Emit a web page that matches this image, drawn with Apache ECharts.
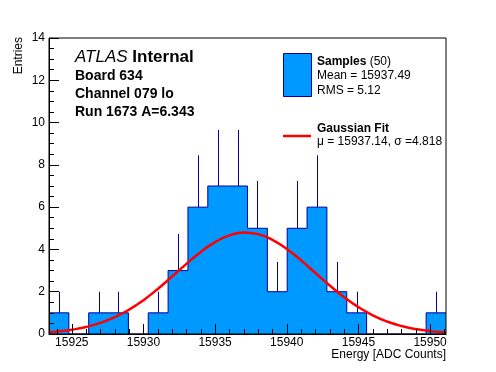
<!DOCTYPE html>
<html>
<head>
<meta charset="utf-8">
<script src="https://cdn.jsdelivr.net/npm/echarts@6/dist/echarts.min.js"></script>
<style>html,body{margin:0;padding:0;background:#fff;}#c{width:496px;height:372px;}</style>
</head>
<body>
<div id="c"></div>
<script>
// ---- data ----
const XMIN = 15923.41;
const XMAX = 15951.11;
const BIN_WIDTH = 1.385;
const counts = [1, 0, 1, 1, 0, 1, 3, 6, 7, 7, 5, 2, 5, 6, 2, 1, 0, 0, 0, 1];
const errUp  = [1, 0, 1, 1, 0, 1, 1.73, 2.45, 2.65, 2.65, 2.24, 1.41, 2.24, 2.45, 1.41, 1, 0, 0, 0, 1];
const fitX = [15923.41, 15924, 15925, 15926, 15927, 15928, 15929, 15930, 15931, 15932, 15933, 15934, 15935, 15936, 15937,
              15938, 15939, 15940, 15941, 15942, 15943, 15944, 15945, 15946, 15947, 15948, 15949, 15950, 15951, 15951.11];
const fitY = [0.083, 0.117, 0.201, 0.331, 0.524, 0.794, 1.152, 1.601, 2.131, 2.717, 3.318, 3.881, 4.349, 4.667, 4.798,
              4.724, 4.455, 4.025, 3.482, 2.886, 2.291, 1.742, 1.269, 0.885, 0.591, 0.378, 0.232, 0.136, 0.077, 0.072];
const xMajorTicks = [15925, 15930, 15935, 15940, 15945, 15950];
const yMin = 0, yMax = 14, yStep = 2;

// ---- derived structures ----
const stepData = [];
for (let i = 0; i < counts.length; i++) stepData.push([XMIN + i * BIN_WIDTH, counts[i]]);
stepData.push([XMIN + counts.length * BIN_WIDTH, counts[counts.length - 1]]);
const errData = [];
for (let i = 0; i < counts.length; i++) {
  if (counts[i] > 0) errData.push([XMIN + (i + 0.5) * BIN_WIDTH, counts[i], counts[i] + errUp[i]]);
}
const xMinorTicks = [];
for (let v = Math.ceil(XMIN); v <= XMAX; v++) if (xMajorTicks.indexOf(v) < 0) xMinorTicks.push(v);
const fitData = fitX.map((x, i) => [x, fitY[i]]);

const FONT = '"Liberation Sans", Arial, Helvetica, sans-serif';
const FILL = '#0099ff', EDGE = '#000099';

const chart = echarts.init(document.getElementById('c'), null, {renderer: 'canvas'});
chart.setOption({
  animation: false,
  backgroundColor: '#fff',
  textStyle: {fontFamily: FONT},
  grid: {left: 49, right: 50, top: 38, bottom: 38, show: true, borderColor: '#000', borderWidth: 1, backgroundColor: 'transparent', z: 10},
  xAxis: [
    {
      type: 'value', min: XMIN, max: XMAX, position: 'bottom', z: 10,
      axisLine: {show: true, onZero: false, lineStyle: {color: '#000', width: 1}},
      axisTick: {show: true, inside: true, length: 10, customValues: xMajorTicks, lineStyle: {color: '#000', width: 1}},
      axisLabel: {show: true, customValues: xMajorTicks, formatter: v => String(v), color: '#000', fontSize: 12, fontFamily: FONT, margin: 3},
      splitLine: {show: false}
    },
    {
      type: 'value', min: XMIN, max: XMAX, position: 'bottom', z: 10,
      axisLine: {show: false},
      axisTick: {show: true, inside: true, length: 5, customValues: xMinorTicks, lineStyle: {color: '#000', width: 1}},
      axisLabel: {show: false},
      splitLine: {show: false}
    }
  ],
  yAxis: {
    type: 'value', min: yMin, max: yMax, interval: yStep, z: 10,
    axisLine: {show: true, lineStyle: {color: '#000', width: 1}},
    axisTick: {show: true, inside: true, length: 10, lineStyle: {color: '#000', width: 1}},
    minorTick: {show: true, splitNumber: 4, length: 5, lineStyle: {color: '#000', width: 1}},
    axisLabel: {color: '#000', fontSize: 12, fontFamily: FONT, margin: 4},
    splitLine: {show: false}, minorSplitLine: {show: false}
  },
  series: [
    {
      type: 'line', xAxisIndex: 0, data: stepData, step: 'end', showSymbol: false, symbol: 'none',
      lineStyle: {color: EDGE, width: 1}, areaStyle: {color: FILL, opacity: 1, origin: 0}, z: 2, silent: true
    },
    {
      type: 'custom', xAxisIndex: 0, data: errData, z: 3, silent: true,
      renderItem: function (params, api) {
        const p0 = api.coord([api.value(0), api.value(1)]);
        const p1 = api.coord([api.value(0), api.value(2)]);
        return {type: 'line', shape: {x1: Math.round(p0[0]) + 0.5, y1: p0[1], x2: Math.round(p1[0]) + 0.5, y2: p1[1]},
                style: {stroke: EDGE, lineWidth: 1}};
      }
    },
    {
      type: 'line', xAxisIndex: 0, data: fitData, smooth: true, showSymbol: false, symbol: 'none',
      lineStyle: {color: '#ff0000', width: 2.5}, z: 4, silent: true
    }
  ],
  graphic: [
    {type: 'text', x: 19, y: 37, rotation: Math.PI / 2, style: {text: 'Entries', fontSize: 12, fontFamily: FONT, fill: '#000', align: 'right', verticalAlign: 'middle'}},
    {type: 'text', x: 446, y: 354.5, style: {text: 'Energy [ADC Counts]', fontSize: 12, fontFamily: FONT, fill: '#000', align: 'right', verticalAlign: 'middle'}},
    {type: 'text', x: 75, y: 57, style: {text: '{i|ATLAS} {b|Internal}', fontSize: 17, fontFamily: FONT, fill: '#000', verticalAlign: 'middle',
      rich: {i: {fontStyle: 'italic', fontSize: 17, fontFamily: FONT}, b: {fontWeight: 'bold', fontSize: 17, fontFamily: FONT}}}},
    {type: 'text', x: 75, y: 76, style: {text: 'Board 634', fontSize: 14, fontWeight: 'bold', fontFamily: FONT, fill: '#000', verticalAlign: 'middle'}},
    {type: 'text', x: 75, y: 94, style: {text: 'Channel 079 lo', fontSize: 14, fontWeight: 'bold', fontFamily: FONT, fill: '#000', verticalAlign: 'middle'}},
    {type: 'text', x: 75, y: 112, style: {text: 'Run 1673 A=6.343', fontSize: 14, fontWeight: 'bold', fontFamily: FONT, fill: '#000', verticalAlign: 'middle'}},
    {type: 'rect', shape: {x: 283.5, y: 53.5, width: 28, height: 43}, style: {fill: FILL, stroke: EDGE, lineWidth: 1}},
    {type: 'text', x: 317, y: 61.3, style: {text: '{b|Samples} (50)', fontSize: 12, fontFamily: FONT, fill: '#000', verticalAlign: 'middle',
      rich: {b: {fontWeight: 'bold', fontSize: 12, fontFamily: FONT}}}},
    {type: 'text', x: 317, y: 75.8, style: {text: 'Mean = 15937.49', fontSize: 12, fontFamily: FONT, fill: '#000', verticalAlign: 'middle'}},
    {type: 'text', x: 317, y: 90.6, style: {text: 'RMS = 5.12', fontSize: 12, fontFamily: FONT, fill: '#000', verticalAlign: 'middle'}},
    {type: 'line', shape: {x1: 283, y1: 136, x2: 311, y2: 136}, style: {stroke: '#ff0000', lineWidth: 2.5}},
    {type: 'text', x: 317, y: 129, style: {text: 'Gaussian Fit', fontSize: 12, fontWeight: 'bold', fontFamily: FONT, fill: '#000', verticalAlign: 'middle'}},
    {type: 'text', x: 317, y: 141.5, style: {text: 'μ = 15937.14, σ =4.818', fontSize: 12, fontFamily: FONT, fill: '#000', verticalAlign: 'middle'}}
  ]
});
</script>
</body>
</html>
